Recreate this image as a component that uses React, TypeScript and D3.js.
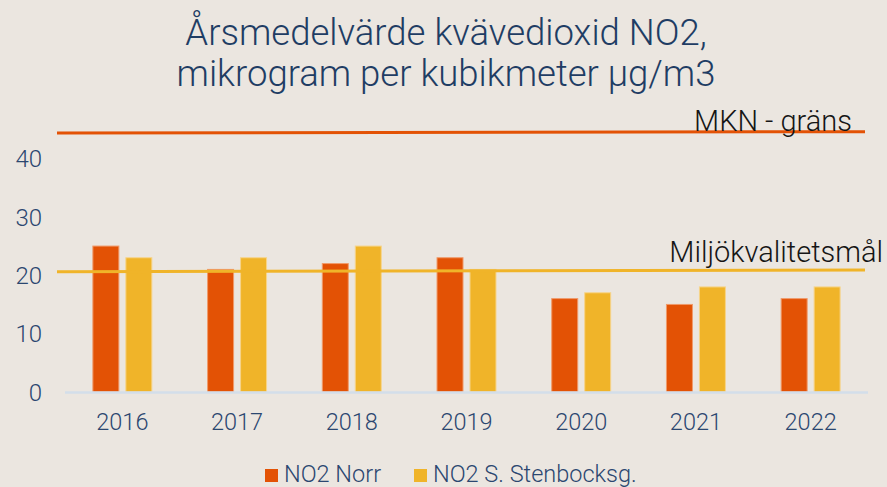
import React from "react";
import * as d3 from "d3";

const years = ["2016", "2017", "2018", "2019", "2020", "2021", "2022"];
const seriesNames = ["NO2 Norr", "NO2 S. Stenbocksg."];
const norr = [25, 21, 22, 23, 16, 15, 16];
const stenbock = [23, 23, 25, 21, 17, 18, 18];
const yTicks = [0, 10, 20, 30, 40];
const mknLine = [44.35, 44.6];
const miljLine = [20.6, 20.9];
const refLabels = ["MKN - gräns", "Miljökvalitetsmål"];
const titleLines = ["Årsmedelvärde kvävedioxid NO2,", "mikrogram per kubikmeter µg/m3"];

const W = 887;
const H = 487;
const BG = "#ebe6e0";
const RED = "#e35205";
const YEL = "#f0b429";
const TEXT = "#2b4770";

export default function App() {
  const x0 = d3.scaleBand<string>().domain(years).range([65, 868]).paddingInner(0.486).paddingOuter(0.243);
  const x1 = d3.scaleBand<string>().domain(seriesNames).range([0, x0.bandwidth()]).paddingInner(0.212).paddingOuter(0);
  const y = d3.scaleLinear().domain([0, 40]).range([392, 158.5]);
  const colors = [RED, YEL];
  const strokes = ["#f09a6a", "#f6d48a"];
  const series = [norr, stenbock];
  const lineX = [57, 865];
  const lineGen = d3.line<number>().x((_, i) => lineX[i]).y((d) => y(d));

  return (
    <svg width={W} height={H} style={{ position: "fixed", top: 0, left: 0, background: BG, fontFamily: "Roboto, sans-serif" }}>
      <rect x={0} y={0} width={W} height={H} fill={BG} />
      {titleLines.map((t, i) => (
        <text key={t} x={446} y={45 + i * 40.5} textAnchor="middle" fontSize={36.5} fontWeight={300} fill="#1f3d64">
          {t}
        </text>
      ))}
      {yTicks.map((t) => (
        <text key={t} x={42} y={y(t)} dy="0.36em" textAnchor="end" fontSize={24} fontWeight={300} fill={TEXT}>
          {t}
        </text>
      ))}
      {years.map((yr, i) => (
        <g key={yr} transform={`translate(${x0(yr)},0)`}>
          {series.map((s, j) => (
            <rect
              key={j}
              x={x1(seriesNames[j])}
              y={y(s[i])}
              width={x1.bandwidth()}
              height={y(0) - y(s[i])}
              fill={colors[j]}
              stroke={strokes[j]}
              strokeWidth={1}
            />
          ))}
        </g>
      ))}
      <line x1={65} x2={868} y1={y(0) + 0.5} y2={y(0) + 0.5} stroke="#d3deea" strokeWidth={2.5} />
      {years.map((yr) => (
        <text key={yr} x={(x0(yr) as number) + x0.bandwidth() / 2} y={429.5} textAnchor="middle" fontSize={23.5} fontWeight={300} fill={TEXT}>
          {yr}
        </text>
      ))}
      <path d={lineGen(mknLine) as string} stroke={RED} strokeWidth={3} fill="none" />
      <path d={lineGen(miljLine) as string} stroke={YEL} strokeWidth={3} fill="none" />
      <text x={852} y={130.5} textAnchor="end" fontSize={29} fontWeight={300} fill="#151515">
        {refLabels[0]}
      </text>
      <text x={883} y={261.5} textAnchor="end" fontSize={29} fontWeight={300} fill="#151515">
        {refLabels[1]}
      </text>
      {seriesNames.map((n, j) => {
        const lx = [265, 414][j];
        return (
          <g key={n}>
            <rect x={lx} y={469} width={13} height={13} fill={colors[j]} />
            <text x={lx + 19} y={482} fontSize={23.5} fontWeight={300} fill={TEXT}>
              {n}
            </text>
          </g>
        );
      })}
    </svg>
  );
}
